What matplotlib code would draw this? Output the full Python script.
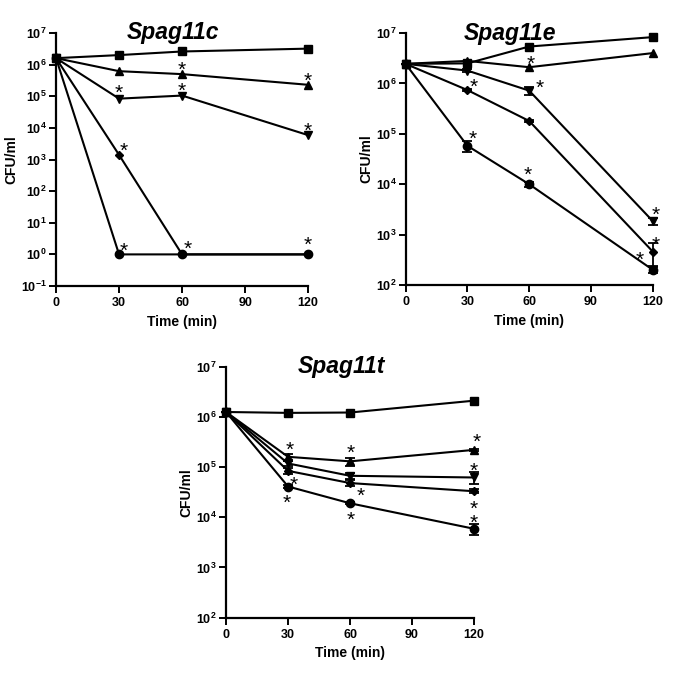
import matplotlib
matplotlib.use("Agg")
import matplotlib.pyplot as plt
import numpy as np
from matplotlib.ticker import FixedLocator, NullLocator, FuncFormatter

plt.rcParams['font.family'] = ['Liberation Sans', 'DejaVu Sans']
plt.rcParams['font.weight'] = 'bold'
plt.rcParams['mathtext.fontset'] = 'custom'
plt.rcParams['mathtext.rm'] = 'Liberation Sans:bold'
plt.rcParams['mathtext.bf'] = 'Liberation Sans:bold'
plt.rcParams['mathtext.it'] = 'Liberation Sans:bold:italic'

time = [0, 30, 60, 120]

# ---------------- Spag11c ----------------
c_square = [1.6e6, 2.0e6, 2.6e6, 3.2e6]
c_tri_up = [1.6e6, 6.2e5, 5.0e5, 2.3e5]
c_tri_down = [1.6e6, 8.4e4, 1.05e5, 5.9e3]
c_diamond = [1.6e6, 1.4e3, 1.0, 1.0]
c_circle = [1.6e6, 1.0, 1.0, 1.0]
c_stars_x = [60, 120, 29.6, 60, 120, 32.3, 32.3, 62.5, 120]
c_stars_y = [1.0e6, 4.3e5, 1.8e5, 2.1e5, 1.15e4, 2.75e3, 1.8, 2.1, 2.95]
c_stars_n = [1, 1, 1, 1, 1, 1, 1, 1, 1]

# ---------------- Spag11e ----------------
e_square = [2.45e6, 2.5e6, 5.4e6, 8.3e6]
e_tri_up = [2.45e6, 2.8e6, 2.1e6, 4.0e6]
e_tri_down = [2.45e6, 1.8e6, 7.2e5, 1.85e3]
e_diamond = [2.45e6, 7.4e5, 1.8e5, 4.6e2]
e_circle = [2.45e6, 5.8e4, 1.0e4, 2.0e2]
e_tri_down_err = [0, 1e5, 1.2e5, 2.7e2]
e_diamond_err = [0, 3e4, 8e3, 2.2e2]
e_circle_err = [0, 1.5e4, 1.0e3, 3.0e1]
e_stars_x = [33.3, 32.8, 60.6, 65.1, 59.1, 121.3, 121.3, 113.6]
e_stars_y = [1.07e6, 9.8e4, 3.0e6, 1.0e6, 1.9e4, 3.1e3, 7.9e2, 4.0e2]
e_stars_n = [1, 1, 1, 1, 1, 1, 1, 1]

# ---------------- Spag11t ----------------
t_square = [1.25e6, 1.2e6, 1.22e6, 2.1e6]
t_tri_up = [1.25e6, 1.6e5, 1.3e5, 2.2e5]
t_tri_down = [1.25e6, 1.18e5, 6.7e4, 6.2e4]
t_diamond = [1.25e6, 8.4e4, 4.8e4, 3.3e4]
t_circle = [1.25e6, 4.1e4, 1.9e4, 5.9e3]
t_tri_up_err = [0, 2.5e4, 2.5e4, 1.0e4]
t_tri_down_err = [0, 1.5e4, 1.0e4, 1.6e4]
t_diamond_err = [0, 1.0e4, 6.0e3, 3.0e3]
t_circle_err = [0, 3.0e3, 1.0e3, 1.5e3]
# last entry is a stacked pair of asterisks (bottom star position given)
t_stars_x = [30.6, 32.9, 29.4, 60.2, 65.3, 60.3, 121.3, 120, 120]
t_stars_y = [2.75e5, 5.5e4, 2.45e4, 2.35e5, 3.3e4, 1.12e4, 3.9e5, 1.05e5, 9.8e3]
t_stars_n = [1, 1, 1, 1, 1, 1, 1, 1, 2]

x_ticks = [0, 30, 60, 90, 120]

fig = plt.figure(figsize=(6.85, 6.73), dpi=100)

def sup_fmt(v, pos):
    e = int(round(np.log10(v)))
    return r'$\mathbf{10^{%d}}$' % e

def style_axes(ax, title, ylo, yhi, title_x):
    ax.set_yscale('log')
    ax.set_xlim(0, 120)
    ax.set_ylim(10.0 ** ylo, 10.0 ** yhi)
    ax.xaxis.set_major_locator(FixedLocator(x_ticks))
    ax.yaxis.set_major_locator(FixedLocator([10.0 ** k for k in range(ylo, yhi + 1)]))
    ax.yaxis.set_minor_locator(NullLocator())
    ax.yaxis.set_major_formatter(FuncFormatter(sup_fmt))
    for s in ['top', 'right']:
        ax.spines[s].set_visible(False)
    for s in ['left', 'bottom']:
        ax.spines[s].set_linewidth(1.6)
    ax.tick_params(axis='both', direction='out', length=5, width=1.4, labelsize=9)
    ax.tick_params(axis='y', pad=1.5)
    ax.tick_params(axis='x', pad=3)
    for lab in ax.get_xticklabels():
        lab.set_fontweight('bold')
    ax.set_xlabel('Time (min)', fontsize=10, fontweight='bold', labelpad=4)
    ax.set_ylabel('CFU/ml', fontsize=10, fontweight='bold', labelpad=2)
    ax.text(title_x, 1.0, title, transform=ax.transAxes, ha='center', va='center',
            fontsize=16.5, fontweight='bold', fontstyle='italic')

def draw_series(ax, y, marker, ms, err=None):
    ax.plot(time, y, color='black', lw=1.5, marker=marker, ms=ms, clip_on=False, zorder=3)
    if err is not None:
        ax.errorbar(time, y, yerr=err, fmt='none', ecolor='black', elinewidth=1.3,
                    capsize=3.5, capthick=1.3, clip_on=False, zorder=3)

def draw_stars(ax, xs, ys, ns):
    fs = 15
    for x, y, n in zip(xs, ys, ns):
        ax.annotate('\n'.join(['*'] * n), (x, y), xytext=(0, -0.52 * fs),
                    textcoords='offset points', ha='center', va='baseline',
                    fontsize=fs, fontweight='normal', linespacing=0.62,
                    multialignment='center', annotation_clip=False, zorder=4)

# Panel 1
ax1 = fig.add_axes([0.0818, 0.575, 0.368, 0.376])
style_axes(ax1, 'Spag11c', -1, 7, 0.464)
draw_series(ax1, c_square, 's', 6)
draw_series(ax1, c_tri_up, '^', 6)
draw_series(ax1, c_tri_down, 'v', 6)
draw_series(ax1, c_diamond, 'D', 4)
draw_series(ax1, c_circle, 'o', 6)
draw_stars(ax1, c_stars_x, c_stars_y, c_stars_n)

# Panel 2
ax2 = fig.add_axes([0.592, 0.5765, 0.361, 0.3744])
style_axes(ax2, 'Spag11e', 2, 7, 0.422)
draw_series(ax2, e_square, 's', 6)
draw_series(ax2, e_tri_up, '^', 6)
draw_series(ax2, e_tri_down, 'v', 6, e_tri_down_err)
draw_series(ax2, e_diamond, 'D', 4, e_diamond_err)
draw_series(ax2, e_circle, 'o', 6, e_circle_err)
draw_stars(ax2, e_stars_x, e_stars_y, e_stars_n)

# Panel 3
ax3 = fig.add_axes([0.330, 0.0822, 0.362, 0.373])
style_axes(ax3, 'Spag11t', 2, 7, 0.464)
draw_series(ax3, t_square, 's', 6)
draw_series(ax3, t_tri_up, '^', 6, t_tri_up_err)
draw_series(ax3, t_tri_down, 'v', 6, t_tri_down_err)
draw_series(ax3, t_diamond, 'D', 4, t_diamond_err)
draw_series(ax3, t_circle, 'o', 6, t_circle_err)
draw_stars(ax3, t_stars_x, t_stars_y, t_stars_n)

fig.savefig('out.png', dpi=100)
